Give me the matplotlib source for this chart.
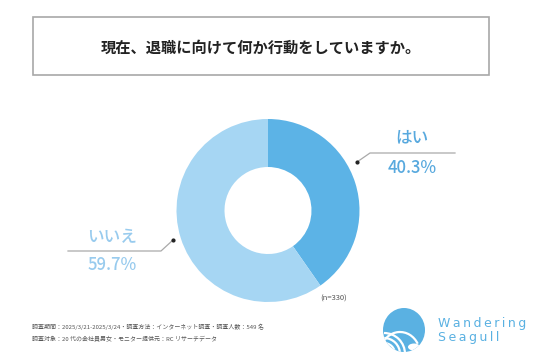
import matplotlib
matplotlib.use("Agg")
import matplotlib.pyplot as plt
from matplotlib.patches import Rectangle, Arc, Ellipse
import numpy as np

plt.rcParams['font.family'] = ['Noto Sans CJK JP', 'DejaVu Sans']

title = "現在、退職に向けて何か行動をしていますか。"
categories = ["はい", "いいえ"]
values = [40.3, 59.7]
colors = ["#5cb3e6", "#a6d6f3"]
label_colors = ["#58a9de", "#98cbee"]
sample_note = "(n=330)"
footer_lines = [
    "調査期間：2025/3/21-2025/3/24・調査方法：インターネット調査・調査人数：549 名",
    "調査対象：20 代の会社員男女・モニター提供元：RC リサーチデータ",
]
brand = ["Wandering", "Seagull"]

W, H = 536, 357
fig = plt.figure(figsize=(W / 100, H / 100), dpi=100)
fig.patch.set_facecolor("white")

# Overlay axes in pixel coordinates
ov = fig.add_axes([0, 0, 1, 1])
ov.set_xlim(0, W)
ov.set_ylim(H, 0)
ov.axis("off")

# Title box
ov.add_patch(Rectangle((33, 17), 456, 58, fill=False, edgecolor="#a8a8a8", linewidth=1.2))
ov.text(261, 48, title, ha="center", va="center", fontsize=11, fontweight="bold", color="#222222")

# Donut
cx, cy, r, rin = 268, 210.5, 91.5, 43.5
pa = fig.add_axes([(cx - r) / W, (H - cy - r) / H, 2 * r / W, 2 * r / H])
pa.pie(values, colors=colors, startangle=90, counterclock=False, radius=1,
       wedgeprops=dict(width=1 - rin / r, edgecolor="none"))
pa.set_xlim(-1, 1)
pa.set_ylim(-1, 1)
pa.axis("off")

# Leader lines
ov.plot([357, 370, 455], [162, 153, 153], color="#a9a9a9", lw=0.9)
ov.plot([357], [162], "o", color="#222222", ms=2)
ov.plot([68, 161, 173], [251, 251, 240], color="#a9a9a9", lw=0.9)
ov.plot([173], [240], "o", color="#222222", ms=2)

# Labels
ov.text(412, 137, categories[0], ha="center", va="center", fontsize=12, color=label_colors[0], fontweight="medium")
ov.text(412, 168, f"{values[0]:.1f}%", ha="center", va="center", fontsize=12, color=label_colors[0], fontweight="medium")
ov.text(112, 237, categories[1], ha="center", va="center", fontsize=12, color=label_colors[1], fontweight="medium")
ov.text(112, 265, f"{values[1]:.1f}%", ha="center", va="center", fontsize=12, color=label_colors[1], fontweight="medium")

ov.text(334, 299, sample_note, ha="center", va="center", fontsize=5.5, color="#555555")

# Footer
ov.text(32, 327, footer_lines[0], ha="left", va="center", fontsize=4.3, color="#555555")
ov.text(32, 338, footer_lines[1], ha="left", va="center", fontsize=4.3, color="#555555")

# Logo
logo_c = "#5ab1e2"
ov.add_patch(Ellipse((404, 330), 42, 44, color=logo_c, ec="none"))
clip = Ellipse((404, 330), 42, 44, transform=ov.transData)
for rr in [6, 11, 16, 21]:
    a = Arc((384, 354), 2 * rr, 2 * rr, theta1=270, theta2=360, color="white", lw=1.6)
    ov.add_patch(a)
    a.set_clip_path(clip)
top = Arc((400, 354), 40, 44, theta1=200, theta2=330, color="white", lw=1.6)
ov.add_patch(top)
top.set_clip_path(clip)
hump = Ellipse((414, 347), 12, 7, color="white", ec="none")
ov.add_patch(hump)
hump.set_clip_path(clip)

sp = "\u2009"
ov.text(438, 323, sp.join(brand[0]), ha="left", va="center", fontsize=9, color=logo_c,
        fontfamily="DejaVu Sans")
ov.text(438, 338, sp.join(brand[1]), ha="left", va="center", fontsize=9, color=logo_c,
        fontfamily="DejaVu Sans")

fig.savefig("out.png", dpi=100, facecolor="white")
